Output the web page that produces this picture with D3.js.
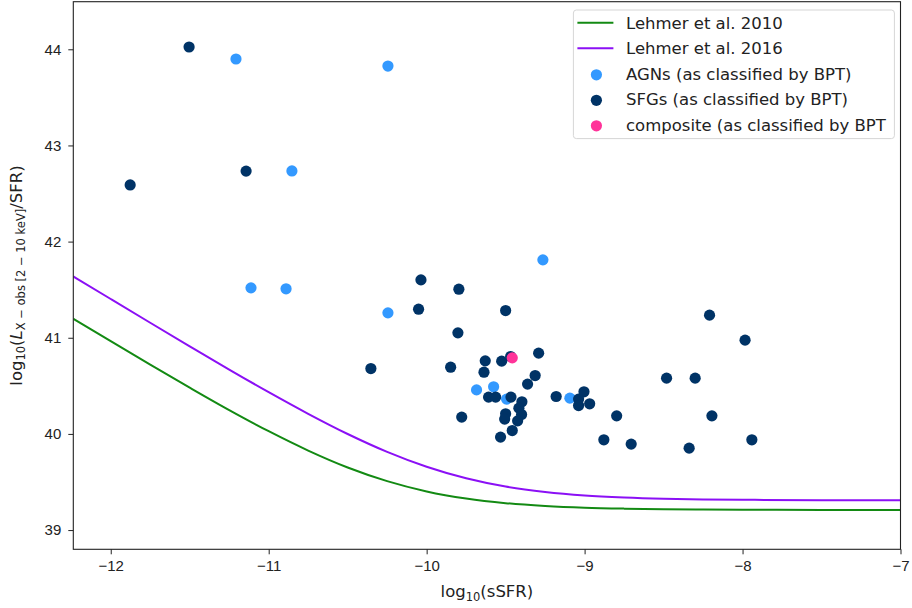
<!DOCTYPE html>
<html>
<head>
<meta charset="utf-8">
<script src="https://cdn.jsdelivr.net/npm/d3@7"></script>
<style>
  body { margin: 0; background: #fff; }
  svg { font-family: "DejaVu Sans", sans-serif; }
  .axis text { font-size: 15px; fill: #222; }
  .axis path, .axis line { stroke: #222; }
</style>
</head>
<body>
<div id="chart"></div>
<script>
// model curves at fixed log10(sSFR) steps
var curve_x = [-12.237, -12, -11.75, -11.5, -11.25, -11, -10.75, -10.5, -10.25, -10, -9.75, -9.5, -9.25, -9, -8.75, -8.5, -8.25, -8, -7.5, -7];
var lehmer2010 = [41.198, 40.964, 40.720, 40.481, 40.248, 40.028, 39.827, 39.651, 39.509, 39.402, 39.328, 39.280, 39.251, 39.233, 39.223, 39.217, 39.214, 39.212, 39.210, 39.210];
var lehmer2016 = [41.638, 41.403, 41.156, 40.911, 40.669, 40.434, 40.209, 39.999, 39.813, 39.658, 39.538, 39.452, 39.396, 39.360, 39.339, 39.326, 39.319, 39.315, 39.311, 39.310];

// scatter points: [log10 sSFR, log10 Lx/SFR]
var agn = [
  [-11.207, 43.899], [-10.245, 43.826], [-10.853, 42.735], [-9.264, 41.810],
  [-11.112, 41.519], [-10.890, 41.509], [-10.245, 41.259], [-9.684, 40.458],
  [-9.576, 40.490], [-9.494, 40.362], [-9.093, 40.372]
];
var sfg = [
  [-11.504, 44.024], [-11.877, 42.589], [-11.143, 42.733], [-10.036, 41.602],
  [-9.796, 41.505], [-10.051, 41.297], [-9.500, 41.283], [-9.802, 41.051],
  [-9.291, 40.840], [-9.468, 40.805], [-10.353, 40.680], [-9.848, 40.694],
  [-9.629, 40.760], [-9.525, 40.757], [-9.637, 40.642], [-9.313, 40.607],
  [-9.361, 40.518], [-9.608, 40.383], [-9.563, 40.383], [-9.466, 40.383],
  [-9.397, 40.334], [-9.416, 40.268], [-9.399, 40.202], [-9.500, 40.209],
  [-9.506, 40.154], [-9.424, 40.136], [-9.458, 40.035], [-9.532, 39.967],
  [-9.778, 40.175], [-9.180, 40.389], [-9.004, 40.438], [-9.038, 40.362],
  [-9.038, 40.295], [-8.968, 40.313], [-8.797, 40.188], [-8.878, 39.939],
  [-8.705, 39.894], [-8.209, 41.235], [-7.984, 40.975], [-8.481, 40.580],
  [-8.300, 40.580], [-8.194, 40.188], [-7.941, 39.939], [-8.338, 39.852]
];
var composite = [[-9.458, 40.791]];

var x_ticks = [-12, -11, -10, -9, -8, -7];
var y_ticks = [39, 40, 41, 42, 43, 44];

var legend_items = [
  {label: "Lehmer et al. 2010", type: "line", color: "#138a13"},
  {label: "Lehmer et al. 2016", type: "line", color: "#8b10f5"},
  {label: "AGNs (as classified by BPT)", type: "dot", color: "#3399ff"},
  {label: "SFGs (as classified by BPT)", type: "dot", color: "#003366"},
  {label: "composite (as classified by BPT", type: "dot", color: "#ff3399"}
];

var width = 912, height = 608;
var margin = {top: 1.7, right: 11.5, bottom: 58.7, left: 73.3};

var svg = d3.select("#chart").append("svg")
            .attr("width", width)
            .attr("height", height);

var xscale = d3.scaleLinear()
               .domain([-12.237, -7])
               .range([margin.left, width - margin.right]);
var yscale = d3.scaleLinear()
               .domain([38.80, 44.495])
               .range([height - margin.bottom, margin.top]);

// clip to the axes box
svg.append("clipPath").attr("id", "plotclip")
   .append("rect")
   .attr("x", margin.left).attr("y", margin.top)
   .attr("width", width - margin.left - margin.right)
   .attr("height", height - margin.top - margin.bottom);

var plot = svg.append("g").attr("clip-path", "url(#plotclip)");

var line = d3.line()
             .x(function(d) { return xscale(d[0]); })
             .y(function(d) { return yscale(d[1]); })
             .curve(d3.curveMonotoneX);

plot.append("path")
    .attr("d", line(d3.zip(curve_x, lehmer2010)))
    .attr("fill", "none")
    .attr("stroke", legend_items[0].color)
    .attr("stroke-width", 2);

plot.append("path")
    .attr("d", line(d3.zip(curve_x, lehmer2016)))
    .attr("fill", "none")
    .attr("stroke", legend_items[1].color)
    .attr("stroke-width", 2);

function dots(data, color) {
    plot.append("g").selectAll("circle")
        .data(data)
        .enter()
        .append("circle")
        .attr("cx", function(d) { return xscale(d[0]); })
        .attr("cy", function(d) { return yscale(d[1]); })
        .attr("r", 5.6)
        .attr("fill", color);
}
dots(agn, legend_items[2].color);
dots(sfg, legend_items[3].color);
dots(composite, legend_items[4].color);

// axes
var xaxis = d3.axisBottom(xscale)
              .tickValues(x_ticks)
              .tickSize(5)
              .tickPadding(4)
              .tickFormat(function(d) { return String(d).replace("-", "\u2212"); });
var yaxis = d3.axisLeft(yscale)
              .tickValues(y_ticks)
              .tickSize(5)
              .tickPadding(7)
              .tickFormat(d3.format("d"));

svg.append("g")
   .attr("class", "axis")
   .attr("transform", "translate(0," + (height - margin.bottom) + ")")
   .call(xaxis)
   .call(function(g) { g.select(".domain").remove(); })
   .selectAll("text").attr("dy", "0.85em");

svg.append("g")
   .attr("class", "axis")
   .attr("transform", "translate(" + margin.left + ",0)")
   .call(yaxis)
   .call(function(g) { g.select(".domain").remove(); });

// frame
svg.append("rect")
   .attr("x", margin.left).attr("y", margin.top)
   .attr("width", width - margin.left - margin.right)
   .attr("height", height - margin.top - margin.bottom)
   .attr("fill", "none")
   .attr("stroke", "#222")
   .attr("stroke-width", 1.1);

// axis labels
var xl = svg.append("text")
   .attr("x", (margin.left + width - margin.right) / 2)
   .attr("y", 597)
   .attr("text-anchor", "middle")
   .attr("font-size", 16.5)
   .attr("fill", "#222");
xl.append("tspan").text("log");
xl.append("tspan").attr("font-size", 11.5).attr("dy", 3.5).text("10");
xl.append("tspan").attr("dy", -3.5).text("(sSFR)");

var yl = svg.append("text")
   .attr("transform", "translate(21.5," + ((margin.top + height - margin.bottom) / 2) + ") rotate(-90)")
   .attr("text-anchor", "middle")
   .attr("font-size", 16.5)
   .attr("fill", "#222");
yl.append("tspan").text("log");
yl.append("tspan").attr("font-size", 11.5).attr("dy", 3.5).text("10");
yl.append("tspan").attr("dy", -3.5).text("(");
yl.append("tspan").attr("font-style", "italic").text("L");
yl.append("tspan").attr("font-size", 11.5).attr("dy", 3.5).text("X \u2212 obs [2 \u2212 10 keV]");
yl.append("tspan").attr("dy", -3.5).text("/SFR)");

// legend
var lg = svg.append("g").attr("transform", "translate(573.4,10)");
lg.append("rect")
  .attr("width", 321).attr("height", 128.6)
  .attr("rx", 3)
  .attr("fill", "#fff").attr("fill-opacity", 0.8)
  .attr("stroke", "#d6d6d6");

var rows = lg.selectAll(".row")
             .data(legend_items)
             .enter()
             .append("g")
             .attr("class", "row")
             .attr("transform", function(d, i) { return "translate(0," + (12.8 + i * 25.5) + ")"; });

rows.filter(function(d) { return d.type == "line"; })
    .append("line")
    .attr("x1", 4).attr("x2", 40)
    .attr("stroke", function(d) { return d.color; })
    .attr("stroke-width", 2);

rows.filter(function(d) { return d.type == "dot"; })
    .append("circle")
    .attr("cx", 23).attr("cy", 1)
    .attr("r", 5.6)
    .attr("fill", function(d) { return d.color; });

rows.append("text")
    .attr("x", 52.6)
    .attr("dy", "0.35em")
    .attr("font-size", 16.5)
    .attr("fill", "#222")
    .text(function(d) { return d.label; });
</script>
</body>
</html>
